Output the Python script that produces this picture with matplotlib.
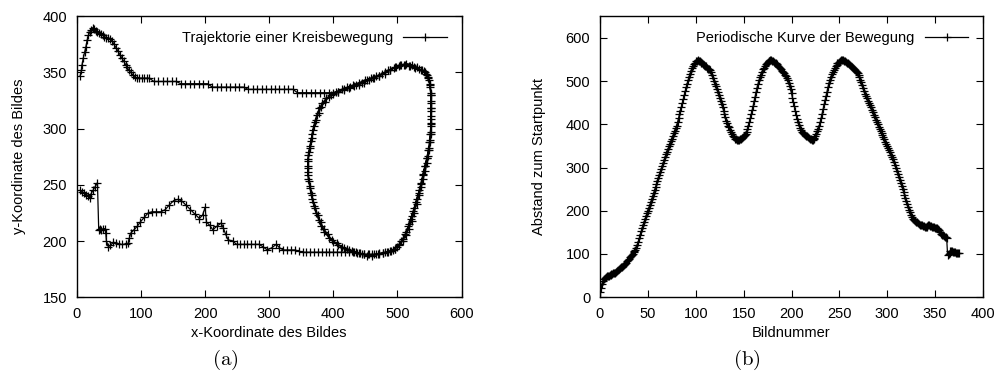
import numpy as np
import matplotlib
matplotlib.use('Agg')
import matplotlib.pyplot as plt

# (a) Trajektorie: x/y-Koordinaten pro Bild
traj_x = [
    # Aufstieg links oben
    5, 7, 8, 10, 12, 14, 16, 18, 20, 22, 25, 27, 30, 32, 35, 38, 40, 43, 46, 49,
    52, 55, 58, 61, 64, 67, 70, 73, 76, 78, 81, 84, 87, 90, 93, 97, 101, 105, 109,
    # obere Gerade
    113, 120, 127, 134, 141, 148, 155, 162, 169, 176, 183, 190, 197, 204, 211, 218,
    225, 232, 239, 246, 253, 260, 267, 274, 281, 288, 295, 302, 309, 316, 323, 330,
    337, 344, 351, 358, 365, 372, 379, 386, 393, 400,
    # Kreis 1
    408, 416, 424, 432, 440, 448, 456, 464, 472, 480, 488, 496, 504, 512, 520, 528,
    536, 543, 548, 551, 552, 552, 552,
    552, 551, 549, 546, 543, 540, 537, 534, 530, 526, 522, 518, 514, 509, 503, 496,
    488, 480, 472, 464, 456, 448, 440, 432, 424, 416, 408, 400, 393, 386, 381, 377,
    373, 370, 367, 365, 363, 361, 360, 360, 361, 362, 364,
    # Kreis 2
    366, 368, 371, 374, 378, 383, 389, 396, 404, 413, 422, 431, 440, 449, 458, 467,
    476, 485, 494, 502, 510, 518, 526, 534, 541, 546, 549, 551, 552, 552, 552, 552,
    552, 551,
    550, 548, 546, 543, 540, 537, 533, 529, 525, 521, 517, 512, 506, 500, 493, 485,
    477, 469, 461, 453, 445, 437, 429, 421, 413, 405, 398, 391, 385, 380, 376, 372,
    369, 366, 364, 362, 361, 360, 360, 361, 363, 365, 367,
    # Kreis 3
    370, 373, 377, 381, 387, 393, 400, 408, 417, 426, 435, 444, 453, 462, 471, 480,
    489, 498, 506, 514, 522, 530, 538, 544, 548, 551, 552, 553, 553, 553, 552, 552,
    551,
    # Rueckweg unten
    550, 548, 546, 543, 540, 537, 534, 530, 526, 522, 518, 513, 508, 502, 496, 490,
    484, 478, 472, 466, 460, 454, 448, 442, 436, 430, 424, 418, 412, 406, 400, 394,
    388, 382, 376, 370, 364, 358, 352, 346, 340, 334, 328, 322, 316, 311, 304, 297,
    290, 284, 278, 272, 266, 260, 254, 249, 243, 236, 232, 228, 225, 218, 212, 207,
    202, 200, 196, 191, 184, 177, 170, 163, 157, 151, 144, 138, 131, 124, 117, 111,
    105, 99, 94, 89, 84, 82, 80, 76, 71, 66, 61, 57, 52, 49, 46, 45, 44, 41, 38, 36,
    34, 32, 28, 25, 22, 20, 17, 14, 11, 8, 5,
]
traj_y = [
    347, 352, 357, 363, 368, 373, 379, 383, 386, 388, 390, 389, 387, 386, 385, 384,
    383, 382, 381, 381, 380, 378, 375, 372, 369, 366, 363, 360, 357, 355, 352, 350,
    348, 346, 345, 345, 345, 345, 345,
    345, 342, 342, 342, 342, 342, 342, 340, 340, 340, 340, 340, 340, 340, 337, 337,
    337, 337, 337, 337, 337, 337, 335, 335, 335, 335, 335, 335, 335, 335, 335, 335,
    335, 332, 332, 332, 332, 332, 332, 332, 332, 332,
    333, 334, 336, 338, 339, 341, 343, 345, 347, 349, 352, 355, 357, 357, 356, 354,
    352, 350, 346, 340, 330, 318, 305,
    295, 288, 281, 274, 267, 260, 252, 245, 237, 229, 222, 215, 208, 202, 197, 193,
    191, 190, 189, 188, 188, 188, 189, 190, 192, 194, 196, 199, 203, 208, 213, 219,
    225, 231, 237, 243, 249, 255, 261, 267, 273, 279, 285,
    292, 299, 306, 312, 318, 323, 327, 330, 333, 335, 337, 339, 341, 343, 345, 347,
    349, 352, 354, 356, 357, 356, 355, 353, 351, 348, 343, 337, 330, 323, 316, 309,
    302, 295,
    288, 281, 274, 267, 259, 251, 243, 235, 227, 220, 213, 206, 200, 195, 192, 190,
    189, 188, 187, 187, 188, 189, 191, 193, 195, 198, 201, 206, 211, 217, 223, 229,
    235, 241, 247, 253, 259, 265, 271, 277, 283, 289, 295,
    302, 308, 314, 319, 324, 328, 331, 333, 335, 337, 339, 341, 343, 345, 347, 350,
    352, 355, 357, 358, 357, 355, 352, 349, 345, 339, 332, 325, 318, 311, 304, 297,
    290,
    283, 276, 269, 262, 255, 248, 241, 233, 225, 218, 211, 205, 200, 196, 193, 191,
    190, 189, 188, 188, 188, 188, 188, 189, 190, 190, 190, 190, 190, 190, 190, 190,
    190, 190, 190, 190, 190, 190, 190, 191, 192, 192, 192, 192, 194, 197, 194, 192,
    195, 197, 197, 197, 197, 197, 197, 197, 200, 201, 206, 212, 216, 213, 210, 214,
    217, 230, 223, 220, 224, 228, 232, 236, 237, 236, 232, 228, 226, 226, 226, 225,
    221, 217, 213, 210, 207, 203, 198, 197, 197, 197, 198, 199, 196, 195, 200, 207,
    211, 211, 210, 211, 210, 252, 248, 245, 242, 238, 240, 241, 243, 244, 245,
]

# (b) Abstand zum Startpunkt pro Bildnummer
abstand = [
    12, 22, 31, 38, 43, 45, 47, 48, 49, 50,
    51, 52, 53, 54, 55, 56, 57, 59, 61, 63,
    65, 67, 69, 70, 72, 75, 77, 80, 83, 86,
    89, 92, 95, 98, 101, 104, 107, 110, 113, 120,
    128, 136, 144, 152, 159, 166, 173, 180, 187, 194,
    200, 207, 213, 220, 227, 234, 241, 248, 255, 262,
    269, 275, 282, 289, 296, 303, 310, 317, 324, 331,
    337, 343, 349, 355, 361, 367, 373, 379, 385, 391,
    397, 405, 414, 423, 432, 441, 450, 459, 468, 477,
    486, 494, 502, 510, 517, 524, 530, 535, 539, 543,
    546, 547, 548, 547, 546, 545, 543, 542, 540, 538,
    536, 534, 531, 529, 527, 525, 520, 514, 508, 500,
    494, 489, 482, 474, 467, 460, 453, 446, 440, 432,
    424, 416, 408, 402, 397, 393, 388, 383, 378, 374,
    370, 367, 365, 364, 363, 364, 365, 366, 368, 370,
    372, 375, 378, 382, 389, 397, 405, 415, 424, 433,
    443, 453, 464, 475, 485, 494, 502, 509, 515, 521,
    527, 531, 535, 539, 542, 544, 546, 547, 548, 548,
    547, 546, 545, 543, 541, 539, 536, 533, 530, 527,
    524, 521, 518, 515, 512, 507, 502, 496, 489, 481,
    472, 462, 452, 442, 432, 422, 413, 405, 398, 392,
    387, 383, 380, 378, 376, 374, 372, 370, 368, 366,
    365, 364, 364, 366, 369, 373, 378, 384, 390, 397,
    405, 415, 425, 436, 446, 456, 466, 476, 486, 495,
    503, 510, 516, 521, 526, 530, 534, 538, 541, 543,
    545, 547, 548, 548, 548, 547, 546, 545, 543, 541,
    539, 537, 535, 532, 530, 528, 526, 524, 521, 518,
    514, 509, 503, 497, 491, 485, 478, 471, 466, 460,
    455, 450, 444, 439, 433, 428, 422, 416, 411, 405,
    400, 395, 390, 385, 380, 375, 370, 365, 360, 355,
    350, 345, 340, 335, 330, 325, 319, 313, 306, 299,
    292, 285, 278, 271, 264, 258, 251, 244, 237, 230,
    223, 216, 209, 202, 196, 190, 186, 182, 179, 177,
    175, 173, 171, 170, 168, 167, 166, 165, 164, 163,
    162, 163, 165, 166, 166, 165, 164, 163, 163, 162,
    161, 160, 159, 157, 155, 150, 147, 145, 143, 141,
    140, 139, 138, 98, 100, 103, 106, 108, 107, 105,
    104, 104, 103, 102, 102, 102,
]
bildnummer = np.arange(len(abstand))

plt.rcParams['font.family'] = ['Liberation Sans', 'DejaVu Sans']
plt.rcParams['mathtext.fontset'] = 'cm'

fig = plt.figure(figsize=(9.99, 3.71), dpi=100)
ax1 = fig.add_axes([0.077, 0.199, 0.385, 0.757])
ax2 = fig.add_axes([0.6006, 0.199, 0.3834, 0.757])

line_kw = dict(color='black', lw=0.9, marker='+', ms=6, mew=0.9)
ax1.plot(traj_x, traj_y, label='Trajektorie einer Kreisbewegung', **line_kw)
ax2.plot(bildnummer, abstand, label='Periodische Kurve der Bewegung', **line_kw)

ax1.set_xlim(0, 600)
ax1.set_ylim(150, 400)
ax1.set_xticks(range(0, 601, 100))
ax1.set_yticks(range(150, 401, 50))
ax1.set_xlabel('x-Koordinate des Bildes', fontsize=10.5, labelpad=4)
ax1.set_ylabel('y-Koordinate des Bildes', fontsize=10.5, labelpad=12)

ax2.set_xlim(0, 400)
ax2.set_ylim(0, 650)
ax2.set_xticks(range(0, 401, 50))
ax2.set_yticks(range(0, 601, 100))
ax2.set_xlabel('Bildnummer', fontsize=10.5, labelpad=4)
ax2.set_ylabel('Abstand zum Startpunkt', fontsize=10.5, labelpad=14)

for ax in (ax1, ax2):
    ax.tick_params(direction='in', top=True, right=True, length=5, width=0.8,
                   labelsize=10.5, pad=7)
    for s in ax.spines.values():
        s.set_linewidth(1.0)
    ax.legend(loc='upper right', frameon=False, markerfirst=False, numpoints=1,
              handlelength=3, handletextpad=0.7, fontsize=10.5, borderaxespad=0.6)

fig.text(225 / 999, 1 - 360 / 371, r'$(\mathrm{a})$', ha='center', va='center', fontsize=15)
fig.text(747 / 999, 1 - 360 / 371, r'$(\mathrm{b})$', ha='center', va='center', fontsize=15)

fig.savefig('out.png', dpi=100)
